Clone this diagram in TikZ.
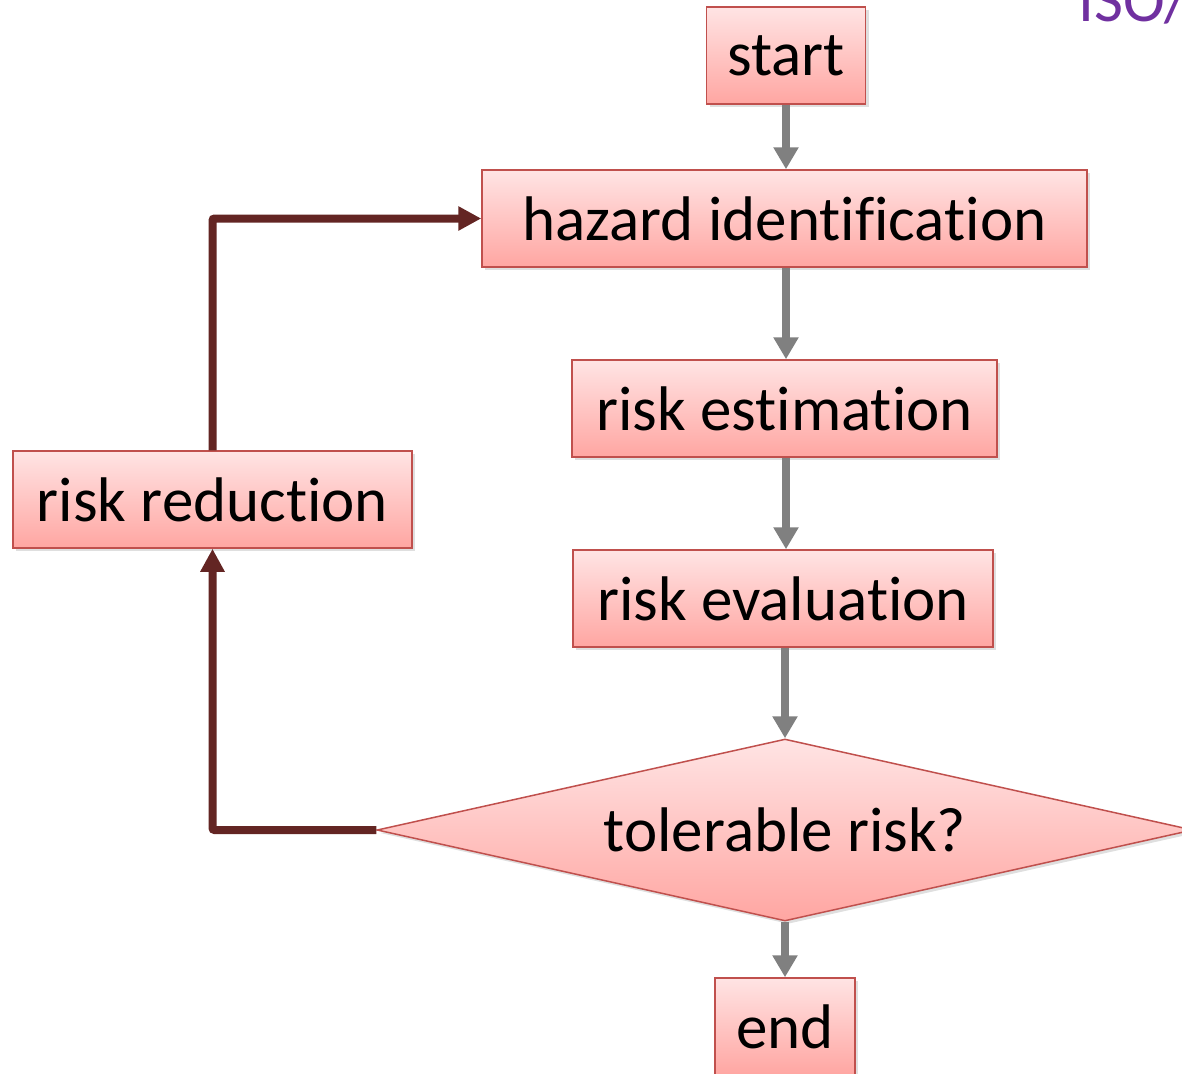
\documentclass[tikz,border=0pt]{standalone}
\usepackage{fontspec}
\setmainfont[RawFeature={-liga;-clig;-calt;-dlig}]{Carlito}
\usetikzlibrary{shapes.geometric,arrows.meta,shadows}
\definecolor{boxborder}{RGB}{192,80,77}
\definecolor{boxtop}{RGB}{255,228,228}
\definecolor{boxbot}{RGB}{255,166,162}
\definecolor{loopred}{RGB}{99,37,35}
\definecolor{flowgray}{RGB}{128,128,128}
\definecolor{isopurple}{RGB}{112,48,160}
\newcommand{\nolig}{\kern0pt\relax}
\tikzset{
  stepbox/.style={draw=boxborder, line width=1.5pt, top color=boxtop, bottom color=boxbot,
    minimum height=97pt, inner sep=0pt, font=\fontsize{63}{70}\selectfont,
    drop shadow={shadow xshift=3pt, shadow yshift=-3pt, opacity=0.25}},
  decision/.style={stepbox, diamond, aspect=4.48, minimum width=816pt, minimum height=182pt},
  grayarrow/.style={draw=flowgray, line width=8pt, -{Triangle[width=24pt,length=22pt]}},
  looparrow/.style={draw=loopred, line width=8pt, rounded corners=2pt, -{Triangle[width=23pt,length=23pt]}},
}
\begin{document}
\begin{tikzpicture}[x=1pt,y=-1pt]
\useasboundingbox (0,0) rectangle (1182,1073);
\clip (0,0) rectangle (1182,1073);
\node[stepbox, minimum width=159pt] (start) at (786,55.5) {start};
\node[stepbox, minimum width=605pt] (hazard) at (784.5,218.5) {hazard ident\nolig ificat\nolig ion};
\node[stepbox, minimum width=425pt] (estim) at (784.5,408.5) {risk est\nolig imat\nolig ion};
\node[stepbox, minimum width=420pt] (evalu) at (783,598.5) {risk evaluat\nolig ion};
\node[decision] (toler) at (785,830) {tolerable risk?};
\node[stepbox, minimum width=140pt] (endn) at (785,1026.5) {end};
\node[stepbox, minimum width=399pt] (reduc) at (212.5,499.5) {risk reduct\nolig ion};
\node[anchor=base west, text=isopurple, inner sep=0pt, font=\fontsize{63}{70}\selectfont] (iso) at (1078,22) {ISO/};
\coordinate (a1) at (786,104);
\draw[grayarrow] (start.south -| a1) -- (hazard.north -| a1);
\draw[grayarrow] (hazard.south -| a1) -- (estim.north -| a1);
\draw[grayarrow] (estim.south -| a1) -- (evalu.north -| a1);
\draw[grayarrow] (evalu.south -| toler.north) -- (toler.north);
\draw[grayarrow] (toler.south) -- (endn.north);
\draw[looparrow] (toler.west) -| (reduc.south);
\draw[looparrow] (reduc.north) |- (hazard.west);
\end{tikzpicture}
\end{document}
